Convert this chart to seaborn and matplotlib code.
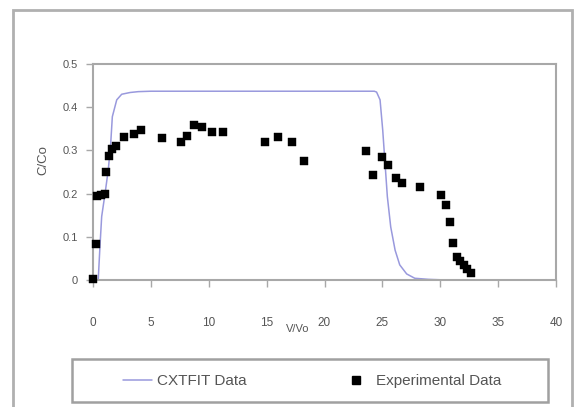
import matplotlib
matplotlib.use("Agg")
import matplotlib.pyplot as plt
import seaborn as sns
import pandas as pd
from matplotlib.patches import Rectangle
from matplotlib.lines import Line2D

# CXTFIT model curve
cxtfit_x = [0.0, 0.45, 0.6, 0.75, 1.04, 1.32, 1.53, 1.67, 2.05, 2.48, 3.2, 3.9, 5.0,
            10.0, 15.0, 20.0, 24.3, 24.5, 24.8, 25.03, 25.23, 25.43, 25.72, 26.1,
            26.5, 27.1, 27.8, 29.0, 30.0, 30.8]
cxtfit_y = [0.0, 0.0, 0.077, 0.147, 0.2, 0.255, 0.316, 0.378, 0.417, 0.43, 0.434, 0.436, 0.437,
            0.437, 0.437, 0.437, 0.437, 0.435, 0.417, 0.347, 0.27, 0.193, 0.123, 0.069,
            0.035, 0.014, 0.004, 0.0015, 0.0005, 0.0]

# Experimental data
exp_x = [0.0, 0.3, 0.35, 0.69, 1.04, 1.12, 1.35, 1.63, 1.95, 2.65, 3.5, 4.15, 5.99, 7.57,
         8.09, 8.75, 9.39, 10.3, 11.2, 14.86, 16.0, 17.17, 18.2, 23.6, 24.2, 24.97,
         25.5, 26.15, 26.7, 28.25, 30.1, 30.53, 30.84, 31.13, 31.45, 31.73, 32.05,
         32.35, 32.65]
exp_y = [0.002, 0.084, 0.194, 0.197, 0.198, 0.249, 0.287, 0.304, 0.311, 0.330, 0.337, 0.347,
         0.328, 0.320, 0.333, 0.359, 0.355, 0.343, 0.343, 0.319, 0.330, 0.319, 0.275,
         0.299, 0.243, 0.285, 0.267, 0.237, 0.225, 0.216, 0.196, 0.174, 0.135, 0.085,
         0.054, 0.044, 0.034, 0.025, 0.016]

x_ticks = [0, 5, 10, 15, 20, 25, 30, 35, 40]
y_ticks = [0, 0.1, 0.2, 0.3, 0.4, 0.5]
y_tick_labels = ["0", "0.1", "0.2", "0.3", "0.4", "0.5"]

sns.set_theme(style="white")
plt.rcParams['font.family'] = ['Liberation Sans', 'DejaVu Sans']

W, H = 574, 407
fig = plt.figure(figsize=(W / 100, H / 100), dpi=100)
fig.patch.set_facecolor("white")

ax = fig.add_axes([93 / W, 1 - 280 / H, 463 / W, 216 / H])

df_c = pd.DataFrame({"x": cxtfit_x, "y": cxtfit_y})
df_e = pd.DataFrame({"x": exp_x, "y": exp_y})

sns.lineplot(data=df_c, x="x", y="y", ax=ax, color="#9999dd", linewidth=1.1, zorder=2)
sns.scatterplot(data=df_e, x="x", y="y", ax=ax, marker="s", s=32, color="black",
                edgecolor="black", linewidth=0.3, zorder=3, clip_on=False)

ax.set_xlim(0, 40)
ax.set_ylim(0, 0.5)
ax.set_xticks(x_ticks)
ax.set_yticks(y_ticks)
ax.set_yticklabels(y_tick_labels)

gray = "#a8a8a8"
for s in ax.spines.values():
    s.set_color(gray)
    s.set_linewidth(1.5)

txt = "#555555"
ax.tick_params(axis="x", direction="out", length=5, width=1, color=gray, pad=22,
               labelsize=8.5, labelcolor=txt, bottom=True)
ax.tick_params(axis="y", direction="out", length=5, width=1, color=gray, pad=6,
               labelsize=8, labelcolor=txt, left=True)

ax.set_xlabel("V/Vo", fontsize=8, color=txt)
ax.xaxis.set_label_coords((298 - 93) / 463, (280 - 324) / 216)
ax.set_ylabel("C/Co", fontsize=9.5, color=txt)
ax.yaxis.set_label_coords((43 - 93) / 463, (280 - 160) / 216)
ax.yaxis.label.set_va("center")
ax.xaxis.label.set_va("top")

# outer chart frame
fig.patches.append(Rectangle((13 / W, -0.05), 559 / W, 1 - 10 / H + 0.05,
                             transform=fig.transFigure, fill=False,
                             edgecolor="#b0b0b0", linewidth=2, zorder=0))
# legend frame
fig.patches.append(Rectangle((72 / W, 1 - 402 / H), 476 / W, 43 / H,
                             transform=fig.transFigure, fill=False,
                             edgecolor="#a0a0a0", linewidth=1.8, zorder=0))

handles = [Line2D([], [], color="#9999dd", linewidth=1.1),
           Line2D([], [], color="black", marker="s", linestyle="none", markersize=5.5)]
fig.legend(handles, ["CXTFIT Data", "Experimental Data"], loc="center",
           bbox_to_anchor=(312 / W, 1 - 381 / H), ncol=2, frameon=False,
           fontsize=11, labelcolor=txt, columnspacing=6.2, handlelength=1.9,
           handletextpad=0.35)

fig.savefig("out.png", dpi=100, facecolor="white")
